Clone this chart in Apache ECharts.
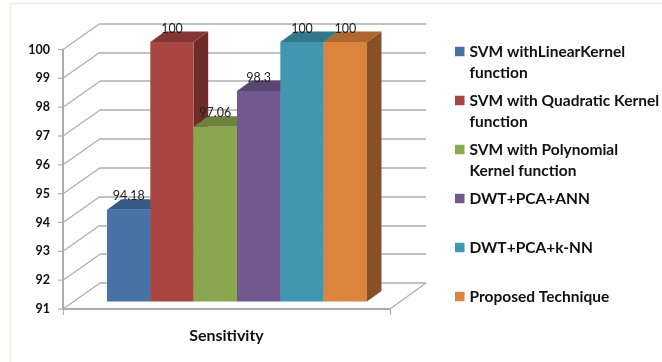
<!DOCTYPE html>
<html>
<head>
<meta charset="utf-8">
<style>html,body{margin:0;padding:0;background:#fff}#c{width:662px;height:362px}</style>
<script src="https://cdn.jsdelivr.net/npm/echarts@6/dist/echarts.min.js"></script>
</head>
<body>
<div id="c"></div>
<script>
const category = ['Sensitivity'];
const seriesNames = ['SVM withLinearKernel function','SVM with Quadratic Kernel function','SVM with Polynomial Kernel function','DWT+PCA+ANN','DWT+PCA+k-NN','Proposed Technique'];
const legendLines = [['SVM withLinearKernel','function'],['SVM with Quadratic Kernel','function'],['SVM with Polynomial','Kernel function'],['DWT+PCA+ANN',' '],['DWT+PCA+k-NN',' '],['Proposed Technique',' ']];
const values = [94.18,100,97.06,98.3,100,100];
const frontColors = ['#4672A8','#A94642','#8AA64F','#71588F','#4197AF','#DB843D'];
const topColors = ['#375A85','#853633','#6C823D','#594570','#327689','#AD672F'];
const sideColors = ['#375A85','#6E2C29','#6C823D','#594570','#327689','#885026'];
const yTicks = [91,92,93,94,95,96,97,98,99,100];
const DX = 14.5, DY = 10.5;   // bar depth
const WX = 37, WY = 26;       // wall depth
const grey = '#ADADAD';

function barRender(idx){
  return function(params, api){
    const base = api.coord([0, 91]);
    const top = api.coord([0, api.value(1)]);
    const catW = api.size([1,0])[0];
    const w = catW / values.length;
    const x0 = base[0] - catW/2 + idx*w;
    const x1 = x0 + w;
    const y0 = base[1], y1 = top[1];
    const children = [
      {type:'polygon', shape:{points:[[x1,y0],[x1+DX,y0-DY],[x1+DX,y1-DY],[x1,y1]]}, style:{fill:sideColors[idx]}},
      {type:'polygon', shape:{points:[[x0,y1],[x0+DX,y1-DY],[x1+DX,y1-DY],[x1,y1]]}, style:{fill:topColors[idx]}},
      {type:'rect', shape:{x:x0,y:y1,width:w,height:y0-y1}, style:{fill:frontColors[idx]}},
      {type:'text', z2:50, style:{text:String(api.value(1)), x:(x0+x1)/2, y:y1-13.5, align:'center', verticalAlign:'middle', fill:'#222', font:'12.5px Lato'}}
    ];
    return {type:'group', children};
  };
}

const wallSeries = {
  type:'custom', xAxisIndex:0, yAxisIndex:0, silent:true, z:2, clip:false,
  data: yTicks.map(v=>[0,v]),
  renderItem(params, api){
    const p = api.coord([0, api.value(1)]);
    const left = params.coordSys.x;
    const y = p[1];
    const r = params.coordSys.x + params.coordSys.width;
    const kids = [
      {type:'line', shape:{x1:left,y1:y,x2:left+WX,y2:y-WY}, style:{stroke:grey,lineWidth:1.2}},
      {type:'line', shape:{x1:left-5,y1:y,x2:left,y2:y}, style:{stroke:grey,lineWidth:1.2}}
    ];
    if (api.value(1) === yTicks[0]) {
      kids.push({type:'line', shape:{x1:r,y1:y,x2:r+WX-1,y2:y-WY}, style:{stroke:grey,lineWidth:1.2}});
    }
    return {type:'group', children:kids};
  }
};

const option = {
  animation:false,
  backgroundColor:'#fff',
  graphic:[{type:'rect', z:-10, shape:{x:10.5,y:3.5,width:700,height:400}, style:{fill:'#fff',stroke:'#F1F1E6',lineWidth:2}}],
  grid:[
    {left:63, top:49.5, width:327, height:259.5},
    {left:100, top:23.5, width:326, height:259.5},
    {left:107, top:42, width:260, height:259.5}
  ],
  xAxis:[
    {gridIndex:0, type:'category', data:category, boundaryGap:true,
      axisLine:{lineStyle:{color:grey,width:2}}, axisTick:{show:true,alignWithLabel:false,length:6,lineStyle:{color:grey,width:1.2}},
      axisLabel:{color:'#111',fontFamily:'Lato',fontWeight:'bold',fontSize:16,margin:19}},
    {gridIndex:1, type:'category', data:category, show:false},
    {gridIndex:2, type:'category', data:category, show:false}
  ],
  yAxis:[
    {gridIndex:0, type:'value', min:91, max:100, interval:1,
      axisLine:{show:true,lineStyle:{color:grey,width:2}}, axisTick:{show:false}, splitLine:{show:false},
      axisLabel:{color:'#111',fontFamily:'Lato',fontWeight:'bold',fontSize:12.5,margin:13,padding:[3,0,0,0]}},
    {gridIndex:1, type:'value', min:91, max:100, interval:1, axisLine:{show:false}, axisTick:{show:false}, axisLabel:{show:false},
      splitLine:{show:true,lineStyle:{color:grey,width:1.5}}},
    {gridIndex:2, type:'value', min:91, max:100, interval:1, show:false}
  ],
  legend:{
    orient:'vertical', left:455, top:20, padding:0, itemGap:-14, itemWidth:9.5, itemHeight:9.5, icon:'rect',
    data:seriesNames,
    formatter:name=>' \n'+legendLines[seriesNames.indexOf(name)].join('\n'),
    textStyle:{color:'#111',fontFamily:'Lato',fontWeight:'bold',fontSize:15.5,lineHeight:21}
  },
  series:[wallSeries].concat(seriesNames.map((n,i)=>({
    name:n, type:'custom', xAxisIndex:2, yAxisIndex:2, z:5+i, clip:false,
    itemStyle:{color:frontColors[i]},
    encode:{x:0,y:1},
    data:[[0,values[i]]],
    renderItem:barRender(i)
  })))
};
echarts.init(document.getElementById('c'),null,{renderer:'canvas'}).setOption(option);
</script>
</body>
</html>
